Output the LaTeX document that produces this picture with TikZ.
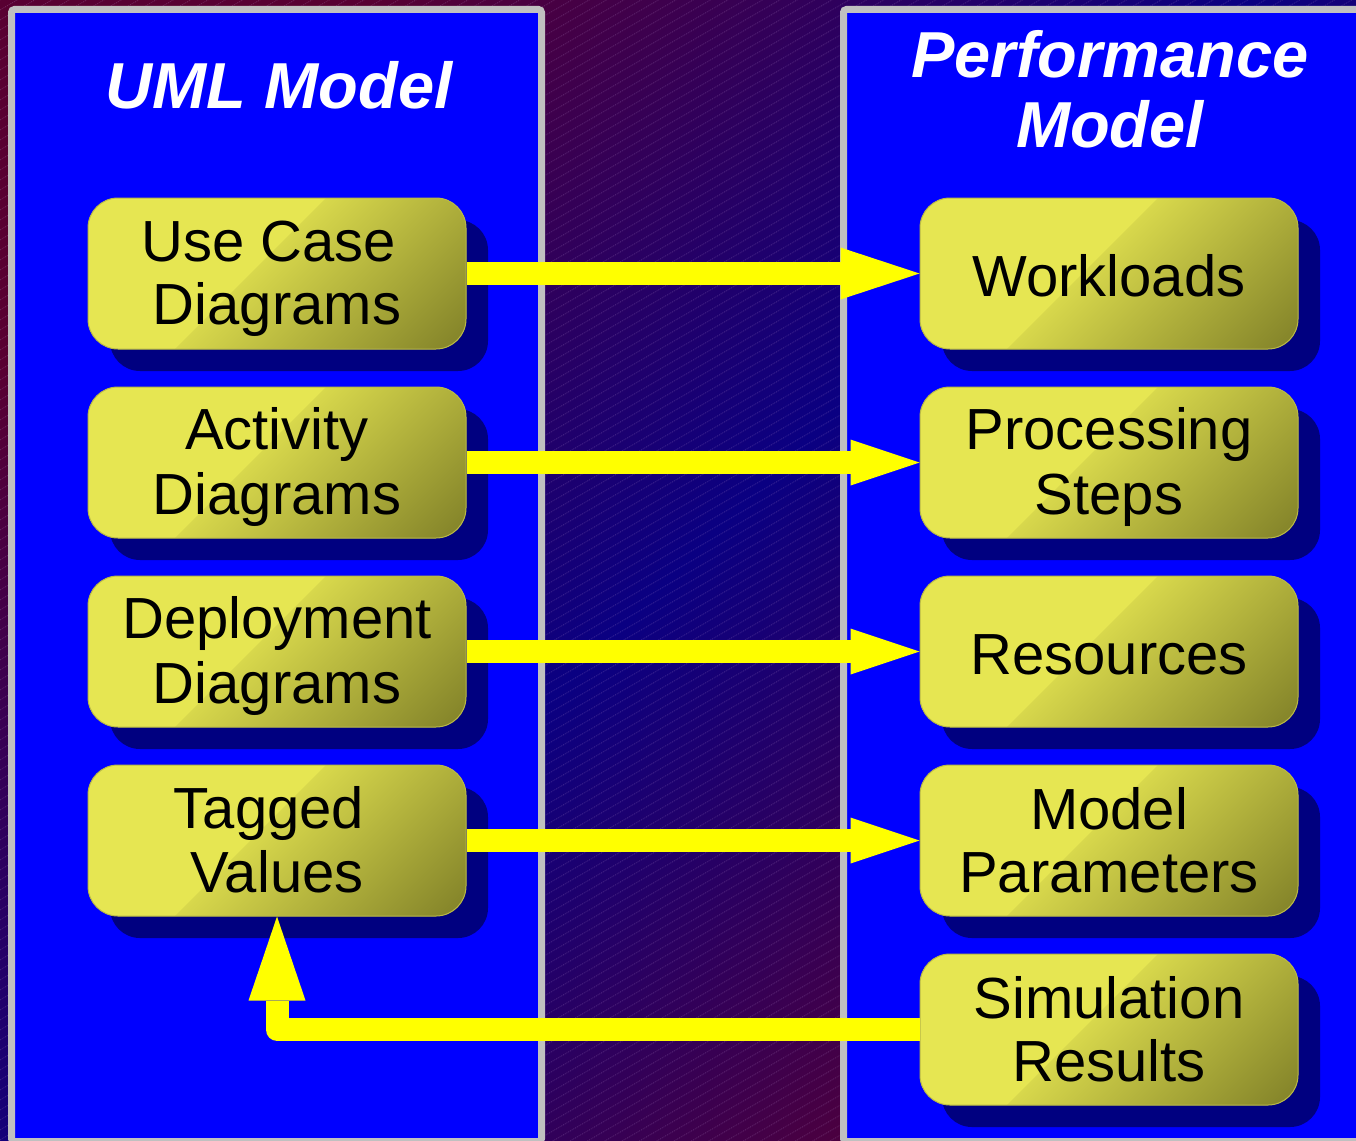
\documentclass[tikz,border=0pt]{standalone}
\usepackage{fontspec}
\setmainfont{Liberation Sans}
\usetikzlibrary{arrows.meta,shadows}

\definecolor{bgred}{RGB}{88,0,50}
\definecolor{bgnavy}{RGB}{10,0,130}
\definecolor{panelblue}{RGB}{0,0,255}
\definecolor{panelgray}{RGB}{192,192,192}
\definecolor{shadownavy}{RGB}{0,0,128}
\definecolor{boxlight}{RGB}{230,230,82}
\definecolor{boxstep}{RGB}{216,216,76}
\definecolor{boxdark}{RGB}{128,128,40}
\definecolor{boxedge}{RGB}{185,185,70}
\definecolor{arrowyellow}{RGB}{255,255,0}
\definecolor{hatchcol}{RGB}{190,150,210}

% backdrop: maroon corners, navy along the anti-diagonal
\pgfdeclarehorizontalshading{backshade}{100bp}{color(0bp)=(bgred); color(25bp)=(bgred); color(50bp)=(bgnavy); color(75bp)=(bgred); color(100bp)=(bgred)}
% box fill: flat yellow, then darkening towards the lower right
% (laid over a 400pt square centred on the box, so 1bp = 8pt along the axis)
\pgfdeclarehorizontalshading{boxshade}{100bp}{color(0bp)=(boxlight); color(47.5bp)=(boxlight); color(47.6bp)=(boxstep); color(73.4bp)=(boxdark); color(100bp)=(boxdark)}

% line struts so every box line sits on the same baseline grid
\newcommand\lnstrut{\rule[-11.5pt]{0pt}{63pt}}
\newcommand\onestrut{\rule[-9pt]{0pt}{63pt}}
\newcommand\ttlstrut{\rule[-20pt]{0pt}{70pt}}

\tikzset{
  panel/.style={fill=panelblue, draw=panelgray, line width=7pt, rounded corners=3pt},
  title/.style={text=white, font=\fontsize{65}{70}\selectfont\bfseries\itshape, inner sep=0pt, align=center},
  box/.style={minimum width=378pt, minimum height=151pt, rounded corners=30pt,
    fill=boxlight, draw=boxedge, line width=1pt,
    path picture={
      \shade[shading=boxshade, shading angle=-45]
        ([shift={(-200,-200)}]path picture bounding box.center) rectangle
        ([shift={(200,200)}]path picture bounding box.center);
    },
    inner sep=0pt, align=center, font=\fontsize{58}{63}\selectfont,
    general shadow={fill=shadownavy, shadow xshift=22pt, shadow yshift=-22pt}},
  flow/.style={draw=arrowyellow, line width=23pt, line join=round},
}

\begin{document}
\begin{tikzpicture}[x=1pt,y=-1pt]
\useasboundingbox (0,0) rectangle (1356,1140);
\clip (0,0) rectangle (1356,1140);

% backdrop with fine diagonal hatching
\shade[shading=backshade, shading angle=-45] (0,0) rectangle (1356,1140);
\foreach \c in {0,10,...,1930}
  \draw[hatchcol, opacity=0.35, line width=0.6pt, dash pattern=on 1pt off 1pt] (0,\c) -- (1356,\c-782.5);

% the two panels
\draw[panel] (11.5,9.5) rectangle (541.5,1141.5);
\draw[panel] (843.5,9.5) rectangle (1370,1141.5);

% panel titles
\node[title, anchor=base] (umltitle) at (279,108) {UML Model};
\node[title] (perftitle) at (1110,97) {\ttlstrut Performance\\\ttlstrut Model};

% UML side
\node[box] (ucd)  at (277,273.5) {\lnstrut Use Case\kern16pt\\\lnstrut Diagrams};
\node[box] (actd) at (277,462.5) {\lnstrut Activity\\\lnstrut Diagrams};
\node[box] (depd) at (277,651.5) {\lnstrut Deployment\\\lnstrut Diagrams};
\node[box] (tagv) at (277,840.5) {\lnstrut Tagged\kern16pt\\\lnstrut Values};

% performance side
\node[box] (wl)  at (1109,273.5)  {\onestrut Workloads};
\node[box] (ps)  at (1109,462.5)  {\lnstrut Processing\\\lnstrut Steps};
\node[box] (res) at (1109,651.5)  {\onestrut Resources};
\node[box] (mp)  at (1109,840.5)  {\lnstrut Model\\\lnstrut Parameters};
\node[box] (sr)  at (1109,1029.5) {\lnstrut Simulation\\\lnstrut Results};

% mappings
\draw[flow, -{Triangle[length=79pt,width=52pt,line width=0pt]}] (ucd.east) -- (wl.west);
\draw[flow, -{Triangle[length=69pt,width=46pt,line width=0pt]}] (actd.east) -- (ps.west);
\draw[flow, -{Triangle[length=69pt,width=46pt,line width=0pt]}] (depd.east) -- (res.west);
\draw[flow, -{Triangle[length=69pt,width=46pt,line width=0pt]}] (tagv.east) -- (mp.west);
\draw[flow, -{Triangle[length=84pt,width=57pt,line width=0pt]}] (sr.west) -| (tagv.south);
\end{tikzpicture}
\end{document}
